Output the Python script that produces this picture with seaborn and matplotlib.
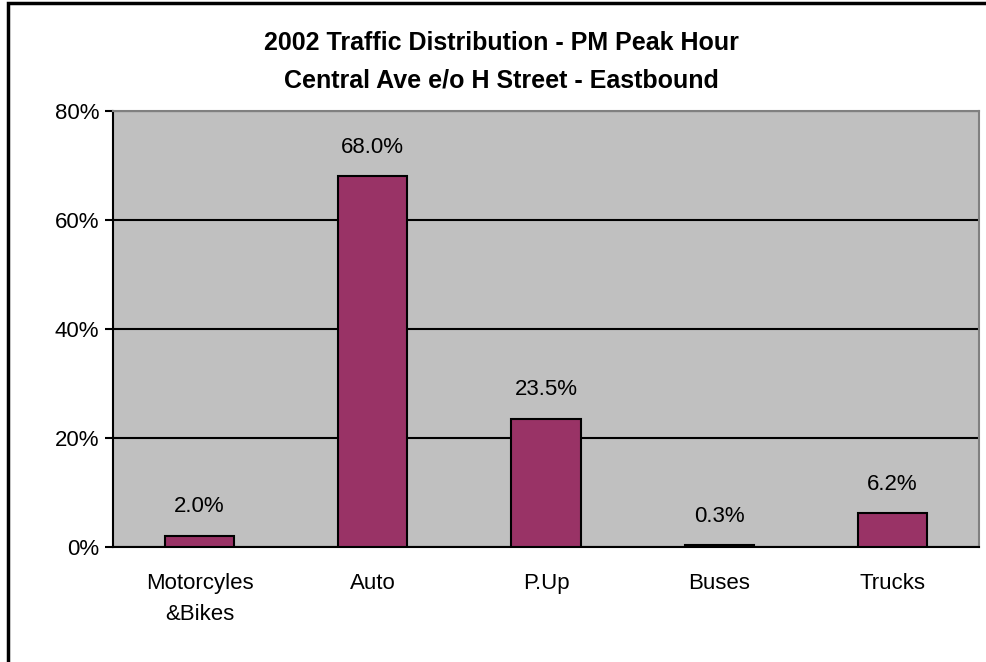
import pandas as pd
import matplotlib.pyplot as plt
import seaborn as sns
from matplotlib.patches import Rectangle
from matplotlib.ticker import FuncFormatter, FixedLocator

# Data
categories = ["Motorcyles\n&Bikes", "Auto", "P.Up", "Buses", "Trucks"]
shares = [2.0, 68.0, 23.5, 0.3, 6.2]
value_labels = ["2.0%", "68.0%", "23.5%", "0.3%", "6.2%"]
y_ticks = [0, 20, 40, 60, 80]

df = pd.DataFrame({"category": categories, "share": shares})

sns.set_style("white")
plt.rcParams["font.family"] = ["Liberation Sans", "DejaVu Sans"]
plt.rcParams["text.color"] = "black"
plt.rcParams["xtick.color"] = "black"
plt.rcParams["ytick.color"] = "black"

fig = plt.figure(figsize=(9.86, 6.62), dpi=100)
ax = fig.add_axes([113 / 986, 1 - 547 / 662, (979 - 113) / 986, (547 - 111) / 662])
ax.set_facecolor("#C0C0C0")

sns.barplot(data=df, x="category", y="share", color="#993366", width=0.4,
            edgecolor="black", linewidth=1.5, saturation=1, ax=ax, zorder=3)

ax.set_ylim(0, 80)
ax.set_xlim(-0.5, len(categories) - 0.5)
ax.set_yticks(y_ticks)
ax.yaxis.set_major_formatter(FuncFormatter(lambda v, p: f"{v:.0f}%"))
ax.yaxis.grid(True, color="black", linewidth=1.5, zorder=1)
ax.set_axisbelow(True)
ax.set_xlabel("")
ax.set_ylabel("")

# category boundary ticks on x axis
ax.xaxis.set_major_locator(FixedLocator(range(len(categories))))
ax.set_xticklabels(categories)
ax.xaxis.set_minor_locator(FixedLocator([i - 0.5 for i in range(len(categories) + 1)]))
ax.tick_params(axis="x", which="major", length=0, labelsize=16, pad=19, labelcolor="black")
ax.tick_params(axis="x", which="minor", length=6, width=1.5, color="black", direction="out")
ax.tick_params(axis="y", length=6, width=1.5, color="black", direction="out",
               labelsize=16, pad=4, labelcolor="black")
ax.tick_params(bottom=True, left=True)
for lbl in ax.get_xticklabels():
    lbl.set_linespacing(1.6)

for side in ["left", "bottom"]:
    ax.spines[side].set_color("black")
    ax.spines[side].set_linewidth(1.5)
for side in ["top", "right"]:
    ax.spines[side].set_color("#808080")
    ax.spines[side].set_linewidth(1.5)

# value labels above bars
for i, (v, t) in enumerate(zip(shares, value_labels)):
    ax.annotate(t, (i, v), xytext=(0, 21), textcoords="offset points",
                ha="center", va="center", fontsize=16, color="black")

# two-line bold title
fig.text(501 / 986, 1 - 43 / 662, "2002 Traffic Distribution - PM Peak Hour",
         ha="center", va="center", fontsize=18, fontweight="bold", color="black")
fig.text(501 / 986, 1 - 80 / 662, "Central Ave e/o H Street - Eastbound",
         ha="center", va="center", fontsize=18, fontweight="bold", color="black")

# chart area border (only left/top visible in the crop)
fig.patches.append(Rectangle((8 / 986, -0.05), 1.1, 1 - 3 / 662 + 0.05,
                             transform=fig.transFigure, fill=False,
                             edgecolor="black", linewidth=2.5))

fig.savefig("out.png", dpi=100)
